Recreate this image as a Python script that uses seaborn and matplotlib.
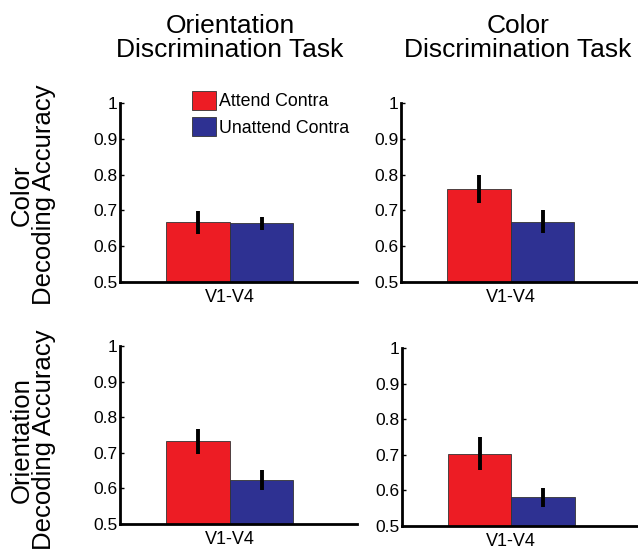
import matplotlib
matplotlib.use("Agg")
import matplotlib.pyplot as plt
import seaborn as sns
import pandas as pd

# data
regions = ["V1-V4"]
conditions = ["Attend Contra", "Unattend Contra"]
tasks = ["Orientation\nDiscrimination Task", "Color\nDiscrimination Task"]
measures = ["Color\nDecoding Accuracy", "Orientation\nDecoding Accuracy"]

# [attend, unattend] per panel
color_acc_orient_task = [0.667, 0.664]
color_acc_color_task = [0.760, 0.668]
orient_acc_orient_task = [0.733, 0.623]
orient_acc_color_task = [0.703, 0.581]

color_err_orient_task = [0.032, 0.018]
color_err_color_task = [0.040, 0.032]
orient_err_orient_task = [0.035, 0.028]
orient_err_color_task = [0.047, 0.027]

palette = ["#ED1C24", "#2E3192"]

sns.set_style("ticks", {"axes.edgecolor": "black", "text.color": "black",
                        "xtick.color": "black", "ytick.color": "black",
                        "axes.labelcolor": "black"})
plt.rcParams["font.family"] = ["Liberation Sans", "DejaVu Sans"]

fig = plt.figure(figsize=(6.38, 5.58), dpi=100)
W, H = 638, 558

panels = [
    (color_acc_orient_task, color_err_orient_task, (120, 103, 237, 179)),
    (color_acc_color_task, color_err_color_task, (401, 103, 237, 179)),
    (orient_acc_orient_task, orient_err_orient_task, (120, 346, 237, 178)),
    (orient_acc_color_task, orient_err_color_task, (402, 348, 236, 178)),
]

for vals, errs, (px, py, pw, ph) in panels:
    ax = fig.add_axes([px / W, 1 - (py + ph) / H, pw / W, ph / H])
    df = pd.DataFrame({"region": regions * 2, "condition": conditions, "acc": vals})
    sns.barplot(data=df, x="region", y="acc", hue="condition", hue_order=conditions,
                palette=palette, errorbar=None, edgecolor="#333333", linewidth=0.6,
                saturation=1, ax=ax, legend=False)
    # error bars at the bar centres
    for bar, e in zip(ax.patches, errs):
        xc = bar.get_x() + bar.get_width() / 2
        ax.errorbar(xc, bar.get_height(), yerr=e, fmt="none", ecolor="black",
                    elinewidth=2.8, capsize=0)
    ax.set_ylim(0.5, 1.0)
    ax.set_xlim(-0.69, 0.80)
    ax.set_yticks([0.5, 0.6, 0.7, 0.8, 0.9, 1.0])
    ax.set_yticklabels(["0.5", "0.6", "0.7", "0.8", "0.9", "1"])
    ax.set_xlabel("")
    ax.set_ylabel("")
    ax.tick_params(axis="y", direction="in", length=3, width=1, labelsize=12.5, pad=2)
    ax.tick_params(axis="x", length=0, labelsize=13, pad=5)
    sns.despine(ax=ax)
    ax.spines["left"].set_linewidth(2)
    ax.spines["bottom"].set_linewidth(2)

# column titles
fig.text(230 / W, 1 - 38 / H, tasks[0], ha="center", va="center", fontsize=19, linespacing=0.97)
fig.text(518 / W, 1 - 38 / H, tasks[1], ha="center", va="center", fontsize=19, linespacing=0.97)

# row labels
fig.text(33 / W, 1 - 195 / H, measures[0], ha="center", va="center", rotation=90,
         fontsize=18.5, linespacing=0.9)
fig.text(33 / W, 1 - 440 / H, measures[1], ha="center", va="center", rotation=90,
         fontsize=18.5, linespacing=0.9)

# legend
handles = [plt.Rectangle((0, 0), 1, 1, facecolor=c, edgecolor="#333333", linewidth=0.6)
           for c in palette]
fig.legend(handles, conditions, loc="upper left", bbox_to_anchor=(192 / W, 1 - 91 / H),
           frameon=False, fontsize=12.8, handlelength=1.35, handleheight=1.25,
           handletextpad=0.15, labelspacing=0.4, borderpad=0, borderaxespad=0)

fig.savefig("out.png", dpi=100)
